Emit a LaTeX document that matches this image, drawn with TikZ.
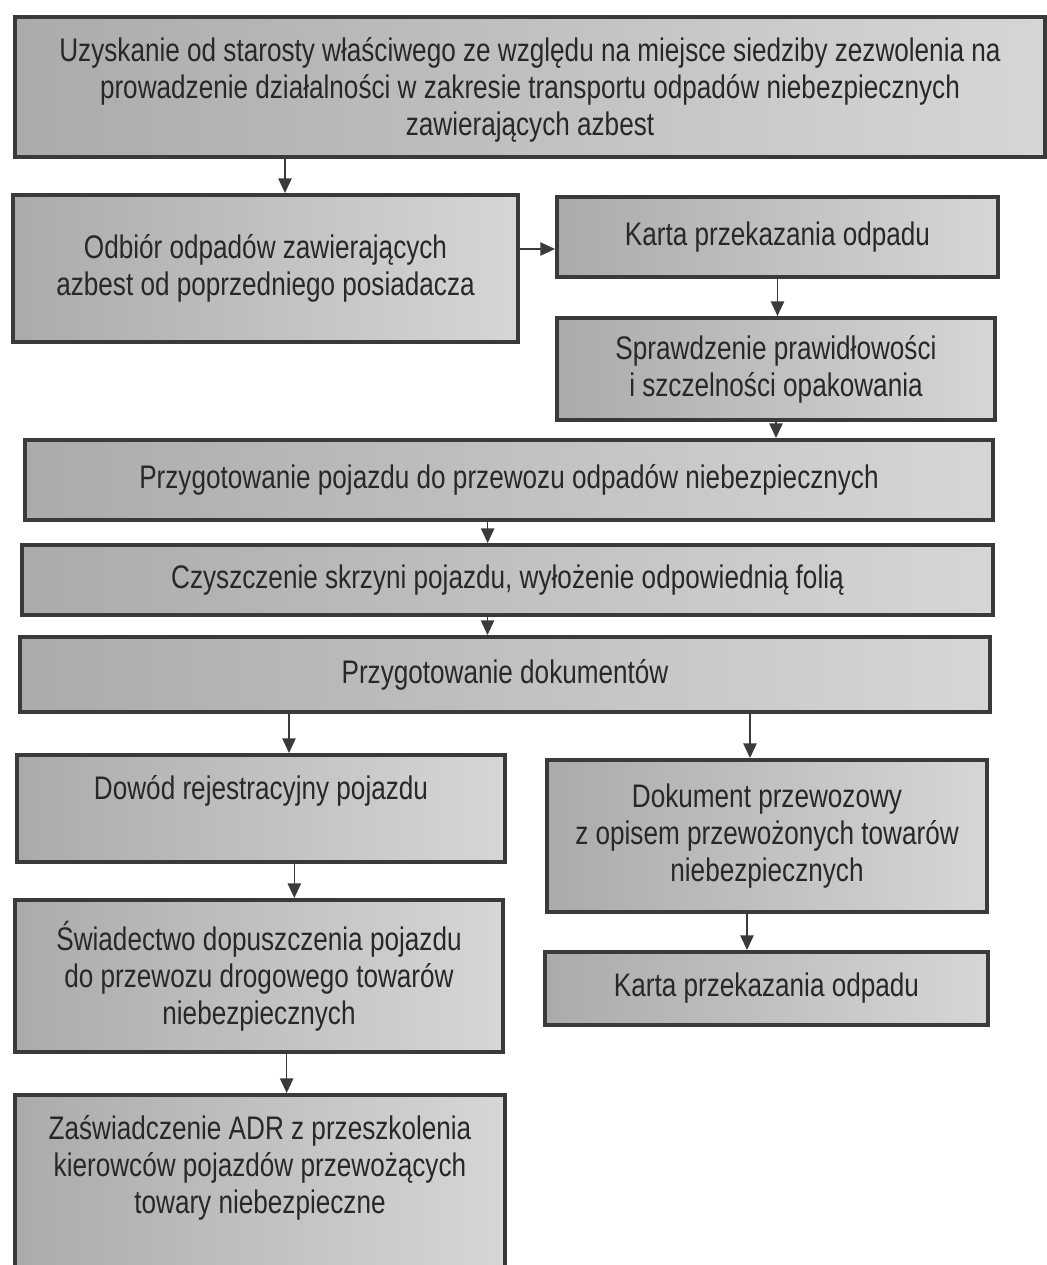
\documentclass[tikz,border=0pt]{standalone}
\usepackage{fontspec}
\setmainfont{Liberation Sans}
\newfontfamily\narrowfont[FakeStretch=0.8]{Liberation Sans}
\usetikzlibrary{arrows.meta}

\definecolor{boxedge}{RGB}{58,58,58}
\definecolor{boxtext}{RGB}{40,40,40}

\tikzset{
  stepbox/.style={draw=boxedge, line width=3pt, left color=black!33, right color=black!16,
    align=center, inner sep=0pt, text=boxtext,
    font=\narrowfont\fontsize{24.5}{27.75}\selectfont},
  arr/.style={draw=boxedge, line width=1.1pt, -{Triangle[width=10pt,length=11pt]}}
}

\begin{document}
\begin{tikzpicture}[x=0.75pt,y=0.75pt,yscale=-1,xscale=1]
        \useasboundingbox (0,0) rectangle (1047,1265);
        \clip (0,0) rectangle (1047,1265);

        %Box: zezwolenie
        \node [stepbox, minimum width=772.5pt, minimum height=105pt, text depth=1pt] (zezwol) at (530,87)
          {Uzyskanie od starosty właściwego ze względu na miejsce siedziby zezwolenia na\\
           prowadzenie działalności w zakresie transportu odpadów niebezpiecznych\\
           zawierających azbest};
        %Box: odbior
        \node [stepbox, minimum width=378.75pt, minimum height=110.25pt] (odbior) at (265.5,268.5)
          {Odbiór odpadów zawierających\\ azbest od poprzedniego posiadacza};
        %Box: karta (1)
        \node [stepbox, minimum width=330.75pt, minimum height=60pt] (kartaA) at (777.5,237)
          {Karta przekazania odpadu};
        %Box: sprawdzenie
        \node [stepbox, minimum width=328.5pt, minimum height=76.5pt] (sprawdz) at (776,369)
          {Sprawdzenie prawidłowości\\ i szczelności opakowania};
        %Box: pojazd
        \node [stepbox, minimum width=726pt, minimum height=60pt] (pojazd) at (509,480)
          {Przygotowanie pojazdu do przewozu odpadów niebezpiecznych};
        %Box: czyszczenie
        \node [stepbox, minimum width=728.25pt, minimum height=52.5pt] (czysz) at (507.5,580)
          {Czyszczenie skrzyni pojazdu, wyłożenie odpowiednią folią};
        %Box: dokumenty
        \node [stepbox, minimum width=727.5pt, minimum height=56.25pt] (dokum) at (505,674.5)
          {Przygotowanie dokumentów};
        %Box: dowod
        \node [stepbox, minimum width=366pt, minimum height=80.25pt, text depth=32pt] (dowod) at (261,808.5)
          {Dowód rejestracyjny pojazdu};
        %Box: dokument przewozowy
        \node [stepbox, minimum width=330pt, minimum height=114pt] (przewoz) at (767,836)
          {Dokument przewozowy\\ z opisem przewożonych towarów\\ niebezpiecznych};
        %Box: swiadectwo
        \node [stepbox, minimum width=366pt, minimum height=114pt] (swiad) at (259,976)
          {Świadectwo dopuszczenia pojazdu\\ do przewozu drogowego towarów\\ niebezpiecznych};
        %Box: karta (2)
        \node [stepbox, minimum width=332.25pt, minimum height=54.75pt] (kartaB) at (766.5,988.5)
          {Karta przekazania odpadu};
        %Box: zaswiadczenie ADR
        \node [stepbox, minimum width=367.5pt, minimum height=138.75pt, text depth=35pt] (zasw) at (260,1187.5)
          {Zaświadczenie ADR z przeszkolenia\\ kierowców pojazdów przewożących\\ towary niebezpieczne};

        %Arrows
        \draw [arr] ([xshift=14.6pt]odbior.north |- zezwol.south) -- ([xshift=14.6pt]odbior.north);
        \draw [arr] ([yshift=9pt]kartaA.west -| odbior.east) -- ([yshift=9pt]kartaA.west);
        \draw [arr] (kartaA.south) -- (kartaA.south |- sprawdz.north);
        \draw [arr] (sprawdz.south) -- (sprawdz.south |- pojazd.north);
        \draw [arr] ([xshift=-16pt]pojazd.south) -- ([xshift=-16pt]pojazd.south |- czysz.north);
        \draw [arr] ([xshift=-15pt]czysz.south) -- ([xshift=-15pt]czysz.south |- dokum.north);
        \draw [arr] ([xshift=21pt]dowod.north |- dokum.south) -- ([xshift=21pt]dowod.north);
        \draw [arr] ([xshift=-12.75pt]przewoz.north |- dokum.south) -- ([xshift=-12.75pt]przewoz.north);
        \draw [arr] ([xshift=25pt]dowod.south) -- ([xshift=25pt]dowod.south |- swiad.north);
        \draw [arr] ([xshift=-15pt]przewoz.south) -- ([xshift=-15pt]przewoz.south |- kartaB.north);
        \draw [arr] ([xshift=20pt]zasw.north |- swiad.south) -- ([xshift=20pt]zasw.north);

\end{tikzpicture}
\end{document}
